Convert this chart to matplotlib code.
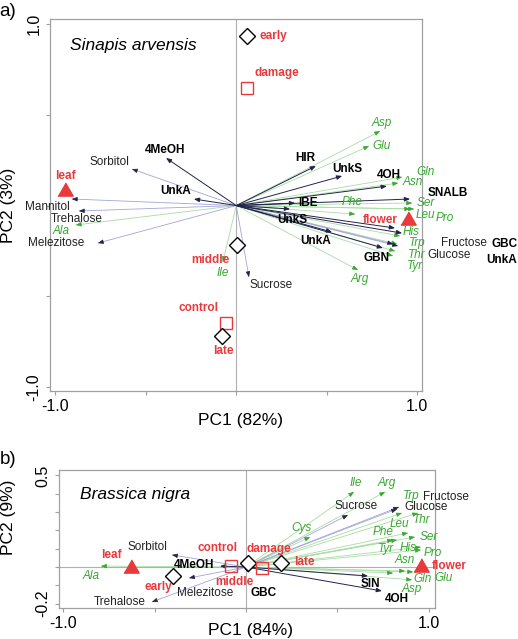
import numpy as np
import matplotlib
matplotlib.use("Agg")
import matplotlib.pyplot as plt

plt.rcParams['font.family'] = ['Liberation Sans', 'DejaVu Sans']

RED = '#e8393c'
GREEN = '#38a832'
DARK = '#23234a'
SUGAR_LINE = '#a4a4d8'
AA_LINE = '#a8dca4'

# ---------------- Panel a: Sinapis arvensis ----------------
a_samples = ['early', 'damage', 'leaf', 'flower', 'middle', 'control', 'late']
a_samp_x = [0.059, 0.059, -0.946, 0.948, 0.004, -0.057, -0.079]
a_samp_y = [0.934, 0.647, 0.091, -0.069, -0.218, -0.647, -0.719]
a_samp_lx = [0.203, 0.224, -0.946, 0.794, -0.145, -0.211, -0.074]
a_samp_ly = [0.934, 0.730, 0.163, -0.080, -0.300, -0.565, -0.802]

a_gls = ['4MeOH', 'UnkA', 'HIR', 'UnkS', '4OH', 'SNALB', 'IBE', 'UnkS', 'UnkA', 'GBN', 'GBC', 'UnkA']
a_gls_x = [-0.388, -0.234, 0.440, 0.585, 0.832, 0.960, 0.325, 0.297, 0.529, 0.810, 0.916, 0.877]
a_gls_y = [0.262, 0.036, 0.218, 0.163, 0.107, 0.036, 0.014, -0.019, -0.146, -0.234, -0.152, -0.124]
a_gls_lx = [-0.394, -0.333, 0.380, 0.612, 0.843, 1.170, 0.396, 0.308, 0.441, 0.777, 1.484, 1.467]
a_gls_ly = [0.306, 0.080, 0.262, 0.201, 0.168, 0.070, 0.014, -0.080, -0.196, -0.289, -0.212, -0.300]

a_sug = ['Sorbitol', 'Mannitol', 'Trehalose', 'Melezitose', 'Sucrose', 'Fructose', 'Glucose']
a_sug_x = [-0.576, -0.908, -0.869, -0.764, 0.070, 0.893, 0.866]
a_sug_y = [0.201, 0.036, -0.030, -0.207, -0.394, -0.223, -0.212]
a_sug_lx = [-0.698, -1.046, -0.880, -0.996, 0.192, 1.258, 1.175]
a_sug_ly = [0.240, -0.008, -0.074, -0.207, -0.438, -0.207, -0.273]

a_aa = ['Asp', 'Glu', 'Gln', 'Asn', 'Phe', 'Ser', 'Leu', 'Pro', 'His', 'Trp', 'Thr', 'Tyr', 'Arg', 'Ala', 'Ile']
a_aa_x = [0.794, 0.733, 0.916, 0.894, 0.656, 0.971, 0.960, 0.982, 0.904, 0.888, 0.877, 0.866, 0.672, -0.886, -0.074]
a_aa_y = [0.410, 0.328, 0.157, 0.124, -0.047, 0.014, -0.019, -0.019, -0.168, -0.212, -0.251, -0.278, -0.355, -0.107, -0.311]
a_aa_lx = [0.805, 0.805, 1.043, 0.976, 0.640, 1.048, 1.043, 1.153, 0.965, 0.998, 0.998, 0.987, 0.683, -0.968, -0.074]
a_aa_ly = [0.455, 0.328, 0.185, 0.129, 0.019, 0.016, -0.050, -0.068, -0.146, -0.207, -0.273, -0.333, -0.405, -0.140, -0.372]

# ---------------- Panel b: Brassica nigra ----------------
b_samples = ['leaf', 'early', 'control', 'middle', 'damage', 'late', 'flower']
b_samp_x = [-0.628, -0.399, -0.082, 0.011, 0.087, 0.191, 0.956]
b_samp_y = [0.005, -0.049, 0.005, 0.022, -0.005, 0.022, 0.011]
b_samp_lx = [-0.738, -0.481, -0.158, -0.066, 0.126, 0.317, 1.109]
b_samp_ly = [0.066, -0.109, 0.104, -0.082, 0.098, 0.027, 0.008]

b_gls = ['4MeOH', 'GBC', 'SIN', '4OH']
b_gls_x = [-0.142, 0.016, 0.667, 0.743]
b_gls_y = [0.005, -0.033, -0.049, -0.131]
b_gls_lx = [-0.284, 0.098, 0.678, 0.825]
b_gls_ly = [0.011, -0.142, -0.093, -0.175]

b_sug = ['Sorbitol', 'Melezitose', 'Trehalose', 'Sucrose', 'Fructose', 'Glucose']
b_sug_x = [-0.404, -0.311, -0.514, 0.557, 0.836, 0.825]
b_sug_y = [0.066, -0.060, -0.191, 0.284, 0.328, 0.317]
b_sug_lx = [-0.536, -0.224, -0.689, 0.601, 1.093, 0.984]
b_sug_ly = [0.109, -0.142, -0.191, 0.333, 0.383, 0.328]

b_aa = ['Ala', 'Ile', 'Arg', 'Trp', 'Thr', 'Cys', 'Leu', 'Phe', 'Ser', 'Tyr', 'His', 'Pro', 'Asn', 'Glu', 'Gln', 'Asp']
b_aa_x = [-0.792, 0.590, 0.760, 0.852, 0.940, 0.350, 0.885, 0.803, 0.923, 0.825, 0.956, 0.956, 0.869, 0.913, 0.803, 0.907]
b_aa_y = [0.005, 0.410, 0.410, 0.295, 0.295, 0.164, 0.186, 0.148, 0.164, 0.148, 0.109, 0.093, -0.022, -0.027, -0.033, -0.070]
b_aa_lx = [-0.847, 0.601, 0.770, 0.902, 0.962, 0.301, 0.836, 0.749, 1.000, 0.765, 0.885, 1.022, 0.869, 1.077, 0.967, 0.907]
b_aa_ly = [-0.049, 0.459, 0.459, 0.388, 0.257, 0.213, 0.235, 0.191, 0.164, 0.098, 0.104, 0.076, 0.038, -0.062, -0.063, -0.122]

SAMPLE_STYLE = {
    'early': ('D', 'white', 'black', 7.8), 'middle': ('D', 'white', 'black', 7.8), 'late': ('D', 'white', 'black', 7.8),
    'control': ('s', 'none', RED, 8.4), 'damage': ('s', 'none', RED, 8.4),
    'leaf': ([(-1, -0.866), (1, -0.866), (0, 0.866)], RED, RED, 11),
    'flower': ([(-1, -0.866), (1, -0.866), (0, 0.866)], RED, RED, 11),
}

FS = 8.5
HEAD = '-|>,head_length=0.32,head_width=0.13'


def draw_arrows(ax, xs, ys, line_color, head_color, lw):
    for x, y in zip(xs, ys):
        if line_color == head_color:
            ax.annotate('', xy=(x, y), xytext=(0, 0),
                        arrowprops=dict(arrowstyle=HEAD, color=head_color, lw=lw,
                                        shrinkA=0, shrinkB=0), zorder=3)
        else:
            ax.plot([0, x], [0, y], color=line_color, lw=lw, zorder=2, solid_capstyle='butt')
            r = np.hypot(x, y)
            f = 1 - 0.012 / r
            ax.annotate('', xy=(x, y), xytext=(x * f, y * f),
                        arrowprops=dict(arrowstyle=HEAD, color=head_color, lw=0.5,
                                        shrinkA=0, shrinkB=0), zorder=3)


def draw_labels(ax, names, lx, ly, color, weight='normal', style='normal'):
    for n, x, y in zip(names, lx, ly):
        ax.text(x, y, n, color=color, fontsize=FS, fontweight=weight, fontstyle=style,
                ha='center', va='center', zorder=6, clip_on=False)


def draw_panel(ax, samples, sx, sy, slx, sly, gls, gx, gy, glx, gly,
               sug, ux, uy, ulx, uly, aa, ax_, ay_, alx, aly, hline):
    ax.axvline(0, color='#b0b0b0', lw=0.8, zorder=1)
    if hline:
        ax.axhline(0, color='#b0b0b0', lw=0.8, zorder=1)
    draw_arrows(ax, ax_, ay_, AA_LINE, GREEN, 0.6)
    draw_arrows(ax, ux, uy, SUGAR_LINE, DARK, 0.6)
    draw_arrows(ax, gx, gy, DARK, DARK, 0.7)
    for n, x, y in zip(samples, sx, sy):
        m, fc, ec, ms = SAMPLE_STYLE[n]
        ax.plot([x], [y], marker=m, ms=ms, mfc=fc, mec=ec, mew=1.0, ls='none', zorder=5)
    draw_labels(ax, samples, slx, sly, RED, weight='bold')
    draw_labels(ax, gls, glx, gly, 'black', weight='bold')
    draw_labels(ax, sug, ulx, uly, '#222222')
    draw_labels(ax, aa, alx, aly, GREEN, style='italic')
    for s in ax.spines.values():
        s.set_color('#a0a0a0')
        s.set_linewidth(0.9)
    ax.tick_params(colors='#a0a0a0', labelcolor='black', length=3, width=0.8,
                   labelsize=11.5, pad=3)


fig = plt.figure(figsize=(5.18, 6.39), dpi=100)
W, H = 518, 639
ax1 = fig.add_axes([50 / W, (H - 391) / H, 372 / W, 372 / H])
ax2 = fig.add_axes([59 / W, (H - 608) / H, 376 / W, 138 / H])

draw_panel(ax1, a_samples, a_samp_x, a_samp_y, a_samp_lx, a_samp_ly,
           a_gls, a_gls_x, a_gls_y, a_gls_lx, a_gls_ly,
           a_sug, a_sug_x, a_sug_y, a_sug_lx, a_sug_ly,
           a_aa, a_aa_x, a_aa_y, a_aa_lx, a_aa_ly, hline=False)
ax1.set_xlim(-1.029, 1.026)
ax1.set_ylim(-1.022, 1.028)
ax1.set_xticks([-1, -0.5, 0, 0.5, 1])
ax1.set_xticklabels(['-1.0', '', '', '', '1.0'])
ax1.set_yticks([-1, -0.5, 0, 0.5, 1])
ax1.set_yticklabels(['-1.0', '', '', '', '1.0'], rotation=90, va='center')
ax1.text(0.223, 0.930, 'Sinapis arvensis', transform=ax1.transAxes, fontsize=12.5,
         fontstyle='italic', ha='center', va='center')

draw_panel(ax2, b_samples, b_samp_x, b_samp_y, b_samp_lx, b_samp_ly,
           b_gls, b_gls_x, b_gls_y, b_gls_lx, b_gls_ly,
           b_sug, b_sug_x, b_sug_y, b_sug_lx, b_sug_ly,
           b_aa, b_aa_x, b_aa_y, b_aa_lx, b_aa_ly, hline=True)
ax2.set_xlim(-1.022, 1.033)
ax2.set_ylim(-0.224, 0.53)
ax2.set_xticks([-1, -0.5, 0, 0.5, 1])
ax2.set_xticklabels(['-1.0', '', '', '', '1.0'])
ax2.set_yticks([-0.2, -0.1, 0, 0.1, 0.2, 0.3, 0.4, 0.5])
ax2.set_yticklabels(['-0.2', '', '', '', '', '', '', '0.5'], rotation=90, va='center')
ax2.text(0.202, 0.819, 'Brassica nigra', transform=ax2.transAxes, fontsize=12.5,
         fontstyle='italic', ha='center', va='center')

fig.text(241 / W, 1 - 420 / H, 'PC1 (82%)', fontsize=12.5, ha='center', va='center')
fig.text(9 / W, 1 - 205 / H, 'PC2 (3%)', fontsize=12.5, ha='center', va='center', rotation=90)
fig.text(250 / W, 1 - 631 / H, 'PC1 (84%)', fontsize=12.5, ha='center', va='center')
fig.text(9 / W, 1 - 517 / H, 'PC2 (9%)', fontsize=12.5, ha='center', va='center', rotation=90)
fig.text(8 / W, 1 - 11 / H, 'a)', fontsize=13.5, ha='center', va='center')
fig.text(8 / W, 1 - 460 / H, 'b)', fontsize=13.5, ha='center', va='center')

fig.savefig('out.png', dpi=100)
